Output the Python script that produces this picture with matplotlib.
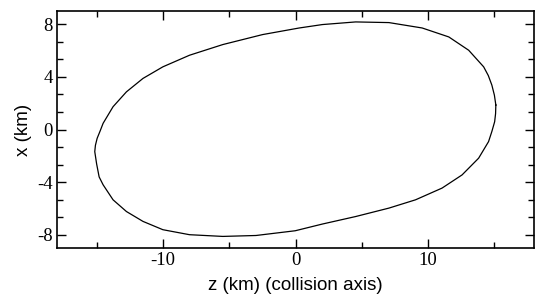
import matplotlib
matplotlib.use('Agg')
import matplotlib.pyplot as plt
from matplotlib.ticker import MultipleLocator

plt.rcParams['axes.unicode_minus'] = False

# Boundary, going anticlockwise from the right end.
z_km = [15.12, 15.01, 14.82, 14.55, 14.20, 13.07, 11.57, 9.56, 7.05, 4.54,
        2.03, 0.28, -2.48, -5.49, -8.00, -10.01, -11.51, -12.76, -13.77,
        -14.52, -14.74, -14.97, -15.10, -15.15, -15.01, -14.82, -14.52,
        -13.77, -12.76, -11.51, -10.01, -8.00, -5.49, -2.98, -0.02, 2.03,
        4.54, 7.05, 9.06, 11.06, 12.57, 13.82, 14.57, 14.82, 15.03, 15.10,
        15.12]
x_km = [1.86, 2.61, 3.37, 4.10, 4.76, 6.02, 7.03, 7.71, 8.12, 8.17,
        7.97, 7.71, 7.21, 6.45, 5.64, 4.76, 3.88, 2.86, 1.73,
        0.47, -0.10, -0.67, -1.20, -1.68, -2.61, -3.60, -4.20,
        -5.34, -6.23, -6.98, -7.61, -7.99, -8.12, -8.05, -7.69, -7.18,
        -6.61, -5.97, -5.34, -4.45, -3.45, -2.18, -0.92, -0.15, 0.59, 1.20,
        1.86]

fig = plt.figure(figsize=(5.35, 2.96), dpi=100)
ax = fig.add_axes([57 / 535, 1 - 248 / 296, 477 / 535, 237 / 296])

ax.plot(z_km, x_km, color='black', linewidth=0.9)

ax.set_xlim(-18, 18)
ax.set_ylim(-9, 9)
ax.xaxis.set_major_locator(MultipleLocator(10))
ax.xaxis.set_minor_locator(MultipleLocator(5))
ax.yaxis.set_major_locator(MultipleLocator(4))
ax.yaxis.set_minor_locator(MultipleLocator(4 / 3))

ax.tick_params(which='both', direction='in', top=True, right=True, width=1.0)
ax.tick_params(which='major', length=6.5)
ax.tick_params(which='minor', length=4)
ax.tick_params(axis='x', pad=3)
ax.tick_params(axis='y', pad=3)
for lab in ax.get_xticklabels() + ax.get_yticklabels():
    lab.set_family('Liberation Serif')
    lab.set_fontsize(13.5)
for s in ax.spines.values():
    s.set_linewidth(1.2)

ax.set_xlabel('z (km) (collision axis)', family='Liberation Sans', fontsize=13.5, labelpad=5.5)
ax.set_ylabel('x (km)', family='Liberation Sans', fontsize=13.5, labelpad=4)

fig.savefig('out.png', dpi=100)
